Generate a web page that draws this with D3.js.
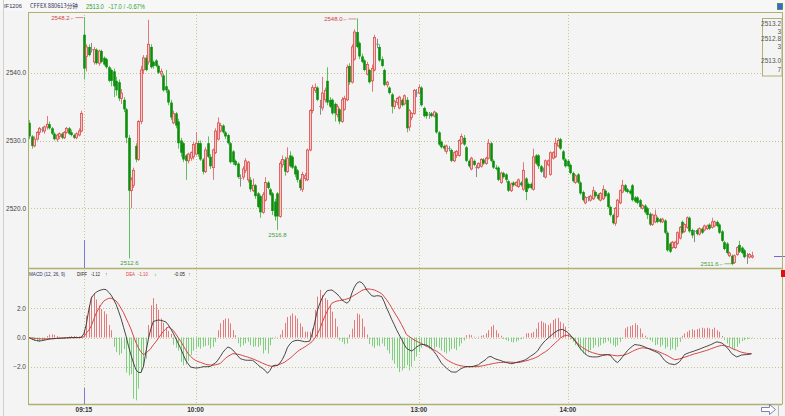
<!DOCTYPE html>
<html><head><meta charset="utf-8">
<script src="https://cdn.jsdelivr.net/npm/d3@7"></script>
<style>
body{margin:0;background:#f4f4f4}
svg{display:block}
text{font-family:"Liberation Sans",Arial,sans-serif}
</style>
</head><body>
<svg id="c" width="785" height="416"></svg>
<script>
// ---------- data ----------
const timeLabels = ["09:15","10:00","13:00","14:00"];
const timeIndex  = [22, 67, 157, 217];
const priceTicks = [2520, 2530, 2540];
const macdTicks  = [-2, 0, 2];
const quoteBox   = ["2513.2","3","2512.8","3","2513.0","7"];

const opens = [
2532.6,2530.6,2529.2,2530.2,2531.2,2531.6,2531.4,2532.0,2532.4,2531.8,
2531.0,2530.2,2530.6,2531.0,2530.4,2531.2,2531.8,2531.2,2530.8,2530.4,
2530.8,2531.4,2545.6,2542.4,2543.8,2543.4,2541.6,2543.4,2541.4,2543.2,
2542.2,2542.0,2540.8,2540.4,2540.2,2538.8,2538.6,2536.2,2536.0,2534.6,
2530.4,2522.6,2523.4,2529.2,2527.2,2532.8,2540.4,2542.2,2541.6,2543.8,
2541.6,2541.8,2541.0,2539.8,2539.6,2538.0,2537.4,2535.6,2532.6,2534.0,
2532.8,2530.0,2529.6,2527.8,2527.0,2527.4,2527.6,2528.0,2529.6,2529.6,
2527.2,2525.4,2529.6,2527.6,2526.0,2528.2,2530.2,2531.4,2532.2,2531.2,
2530.8,2529.6,2528.4,2527.0,2526.6,2524.4,2524.6,2525.6,2524.2,2524.2,
2522.6,2523.4,2522.2,2521.8,2519.4,2521.2,2523.8,2522.8,2522.2,2521.0,
2522.2,2518.8,2526.4,2527.2,2525.4,2527.8,2527.6,2526.2,2525.6,2524.2,
2522.8,2524.4,2524.2,2528.6,2534.4,2537.4,2537.8,2535.0,2534.8,2536.0,
2538.8,2536.0,2536.0,2535.4,2533.8,2534.6,2532.8,2534.6,2536.0,2541.0,
2538.6,2542.0,2546.0,2544.4,2542.4,2541.8,2539.8,2540.4,2538.8,2540.4,
2544.2,2543.8,2542.0,2540.4,2538.2,2537.8,2536.8,2535.0,2535.6,2534.8,
2536.0,2535.4,2536.0,2532.0,2533.4,2534.0,2537.0,2537.0,2537.8,2534.8,
2534.2,2533.8,2534.0,2533.6,2534.0,2531.2,2529.8,2529.2,2528.4,2528.8,
2528.6,2527.0,2527.8,2527.8,2529.6,2530.4,2529.0,2527.0,2525.8,2527.0,
2526.0,2526.0,2526.2,2527.2,2526.6,2527.4,2529.6,2527.0,2526.0,2526.0,
2523.8,2525.2,2525.0,2524.0,2522.6,2523.8,2523.4,2523.2,2523.8,2522.8,
2524.4,2523.6,2523.6,2522.8,2527.8,2527.8,2526.2,2525.6,2524.6,2526.4,
2525.0,2527.4,2527.6,2529.2,2530.2,2528.4,2527.2,2527.0,2526.4,2525.2,
2523.8,2525.0,2523.8,2522.4,2520.8,2521.6,2521.2,2521.4,2522.4,2522.0,
2521.2,2521.4,2522.6,2522.2,2520.2,2519.0,2517.8,2518.8,2520.8,2522.4,
2523.4,2522.8,2522.6,2523.4,2521.6,2521.6,2521.2,2520.0,2520.4,2520.0,
2519.2,2517.6,2518.0,2518.6,2518.4,2518.0,2518.2,2516.4,2514.8,2514.2,
2514.2,2514.8,2515.6,2518.0,2516.6,2517.2,2518.6,2516.8,2516.6,2516.8,
2516.2,2517.0,2516.8,2517.0,2517.6,2517.2,2517.4,2518.0,2517.6,2516.6,
2515.0,2514.8,2513.0,2513.0,2512.0,2513.2,2514.6,2514.2,2513.8,2513.0,
2512.8,2512.8];

const highs = [
2533.0,2530.8,2530.6,2531.4,2532.0,2532.0,2532.2,2533.6,2532.8,2532.0,
2531.2,2531.0,2531.2,2531.2,2531.4,2532.0,2532.0,2531.6,2531.0,2531.2,
2531.8,2534.4,2548.2,2544.2,2544.2,2544.4,2543.8,2543.6,2543.4,2543.4,
2542.4,2542.2,2541.0,2540.6,2540.6,2539.4,2539.0,2537.6,2536.4,2534.8,
2530.8,2524.6,2526.0,2529.6,2533.0,2541.0,2542.6,2542.6,2547.8,2544.2,
2541.8,2542.0,2541.2,2540.6,2539.8,2540.4,2537.6,2536.0,2534.4,2534.2,
2533.2,2530.4,2529.8,2528.0,2528.2,2528.4,2529.8,2531.2,2530.0,2530.0,
2527.4,2529.0,2530.6,2528.0,2528.8,2531.8,2533.4,2532.6,2532.4,2531.4,
2531.0,2529.8,2528.6,2527.2,2526.8,2525.0,2526.2,2527.4,2527.0,2524.6,
2524.4,2523.6,2522.4,2522.0,2522.4,2524.6,2524.0,2523.0,2522.4,2521.4,
2522.4,2527.0,2527.8,2527.6,2529.0,2528.4,2527.8,2526.4,2525.8,2524.4,
2525.4,2525.2,2528.8,2534.6,2538.2,2538.4,2538.0,2536.0,2539.4,2537.8,
2540.8,2536.4,2536.2,2535.6,2535.4,2534.8,2536.4,2536.6,2541.2,2541.4,
2544.2,2546.4,2548.0,2544.6,2542.8,2542.0,2541.6,2540.6,2541.2,2545.6,
2545.0,2544.2,2542.4,2540.6,2538.8,2538.0,2537.0,2536.0,2536.4,2536.6,
2536.2,2536.8,2536.4,2534.6,2534.2,2537.6,2537.6,2538.2,2538.0,2535.0,
2534.4,2534.2,2534.2,2534.4,2534.2,2531.4,2530.0,2529.4,2529.4,2529.2,
2528.8,2528.4,2528.6,2530.2,2531.0,2530.8,2529.2,2527.2,2527.6,2527.2,
2526.4,2526.8,2527.4,2527.4,2527.6,2530.2,2529.8,2527.2,2526.4,2526.2,
2525.4,2525.4,2525.2,2524.2,2523.8,2524.0,2524.0,2524.4,2524.0,2526.8,
2524.6,2523.8,2523.8,2528.8,2528.0,2528.0,2526.4,2526.0,2527.2,2527.2,
2528.4,2528.4,2530.4,2530.4,2530.4,2528.6,2527.4,2527.2,2526.6,2525.4,
2525.0,2525.2,2524.0,2522.6,2521.8,2521.8,2522.0,2523.2,2522.6,2522.2,
2522.4,2523.4,2522.8,2522.4,2520.4,2519.2,2520.2,2521.4,2522.8,2524.2,
2523.6,2523.0,2522.8,2523.6,2521.8,2521.8,2521.4,2520.6,2520.6,2520.2,
2519.4,2519.2,2519.8,2518.8,2518.6,2518.6,2518.4,2516.6,2515.0,2515.2,
2515.2,2516.6,2517.4,2518.2,2517.8,2518.8,2518.8,2517.0,2516.8,2517.0,
2517.2,2517.2,2517.6,2517.6,2517.8,2518.6,2518.2,2518.2,2517.8,2516.8,
2515.2,2515.0,2513.6,2513.2,2513.2,2514.4,2515.2,2514.4,2514.0,2513.4,
2513.4,2513.6];

const lows = [
2530.2,2528.8,2529.0,2530.0,2530.8,2531.2,2531.0,2531.6,2531.6,2530.8,
2530.0,2529.8,2530.2,2530.2,2530.2,2531.0,2530.8,2530.6,2530.2,2530.2,
2530.6,2531.2,2539.0,2540.2,2542.4,2543.0,2541.2,2541.2,2541.0,2541.4,
2541.0,2540.6,2538.6,2538.0,2536.4,2536.6,2535.8,2535.4,2534.2,2529.6,
2512.6,2520.0,2523.0,2526.8,2527.0,2532.4,2539.8,2540.2,2541.2,2540.6,
2540.6,2540.8,2539.8,2539.4,2537.2,2537.0,2535.2,2533.0,2532.4,2531.8,
2528.8,2527.6,2526.8,2524.2,2526.6,2527.0,2527.2,2527.8,2527.6,2527.0,
2525.0,2525.2,2527.4,2525.8,2524.2,2528.0,2530.0,2531.2,2531.0,2530.2,
2529.4,2526.6,2526.4,2526.2,2524.4,2523.2,2524.2,2525.2,2523.8,2522.4,
2522.4,2521.4,2520.0,2518.6,2519.2,2521.0,2522.8,2521.8,2519.0,2518.2,
2516.8,2518.6,2526.0,2524.8,2525.2,2526.0,2525.8,2524.6,2523.8,2522.6,
2522.4,2524.0,2524.0,2528.4,2534.0,2537.0,2535.8,2533.8,2534.4,2535.6,
2535.2,2534.8,2533.8,2532.8,2533.4,2532.4,2532.6,2534.4,2535.8,2538.2,
2538.4,2541.8,2543.6,2542.0,2541.4,2540.2,2539.6,2538.4,2537.2,2540.2,
2543.6,2541.6,2540.8,2538.0,2537.8,2536.8,2534.0,2534.6,2535.2,2534.6,
2535.0,2535.2,2531.2,2531.4,2533.0,2533.8,2536.4,2536.8,2535.0,2533.4,
2533.2,2533.2,2533.4,2533.4,2531.0,2529.2,2528.8,2528.4,2528.0,2528.4,
2526.8,2526.8,2527.4,2527.6,2529.4,2529.2,2526.8,2526.0,2525.6,2526.2,
2524.6,2525.8,2526.0,2526.4,2526.4,2527.2,2526.8,2525.8,2525.6,2524.0,
2523.6,2524.4,2523.8,2522.4,2522.4,2523.2,2523.2,2523.0,2523.2,2522.6,
2521.2,2522.8,2522.8,2522.6,2526.4,2525.8,2525.2,2524.6,2524.4,2526.2,
2524.8,2527.2,2527.4,2529.0,2528.6,2527.0,2526.0,2526.0,2525.0,2523.8,
2523.6,2523.6,2522.0,2521.0,2520.6,2521.0,2521.0,2521.2,2521.6,2521.2,
2521.0,2521.2,2521.6,2520.0,2518.8,2517.6,2517.4,2518.6,2520.6,2522.2,
2522.4,2522.2,2522.0,2521.0,2520.8,2520.6,2520.0,2519.8,2519.2,2518.4,
2517.4,2517.4,2517.8,2517.8,2517.8,2517.8,2516.2,2513.6,2513.4,2514.0,
2514.0,2514.6,2515.4,2516.2,2516.4,2517.0,2516.4,2515.6,2515.0,2516.0,
2516.0,2516.2,2516.6,2516.8,2516.8,2517.0,2517.2,2517.2,2516.2,2515.0,
2513.8,2513.2,2512.8,2511.6,2511.8,2513.0,2513.4,2513.2,2512.6,2511.8,
2512.6,2512.6];

const closes = [
2530.6,2529.2,2530.2,2531.2,2531.8,2531.6,2532.0,2532.4,2531.8,2531.0,
2530.2,2530.8,2531.0,2530.4,2531.2,2531.8,2531.0,2530.8,2530.4,2531.0,
2531.4,2534.0,2540.6,2543.8,2542.6,2543.4,2543.4,2541.4,2543.2,2541.6,
2541.2,2540.8,2538.8,2538.8,2538.0,2537.4,2536.2,2537.0,2534.6,2530.4,
2522.6,2524.2,2525.6,2527.2,2532.8,2540.4,2542.2,2540.4,2544.2,2540.8,
2541.0,2541.0,2540.0,2540.2,2537.4,2537.4,2535.6,2533.4,2534.0,2532.2,
2529.6,2528.2,2527.2,2527.0,2528.0,2528.2,2529.4,2529.6,2528.0,2527.2,
2525.4,2528.6,2527.6,2526.2,2528.6,2531.4,2532.6,2532.2,2531.2,2530.6,
2529.6,2526.8,2526.8,2526.4,2524.6,2524.4,2525.8,2527.0,2526.8,2522.8,
2523.4,2521.8,2520.2,2519.4,2522.0,2523.8,2523.0,2522.0,2519.6,2518.8,
2518.8,2526.6,2527.2,2525.4,2527.4,2526.2,2526.0,2525.0,2524.2,2523.0,
2525.0,2524.8,2528.6,2534.4,2537.8,2537.8,2536.0,2535.0,2537.0,2537.4,
2535.6,2535.0,2534.0,2534.0,2535.0,2532.8,2536.0,2536.2,2540.8,2538.6,
2543.8,2546.0,2543.8,2542.4,2541.6,2540.4,2541.2,2538.6,2540.6,2545.2,
2544.2,2541.8,2541.0,2538.2,2538.6,2537.0,2535.0,2535.8,2536.2,2536.4,
2535.2,2536.6,2531.8,2534.4,2534.0,2537.4,2537.0,2537.8,2535.2,2533.6,
2533.6,2533.8,2533.6,2534.2,2531.2,2529.4,2529.0,2528.8,2529.2,2528.8,
2527.0,2528.2,2528.4,2530.0,2530.6,2529.4,2527.0,2526.2,2527.4,2526.4,
2526.0,2526.6,2527.2,2526.6,2527.4,2529.6,2527.0,2526.0,2525.8,2524.2,
2525.2,2524.6,2524.2,2522.6,2523.6,2523.4,2523.8,2524.2,2523.4,2525.6,
2522.4,2523.0,2523.0,2527.6,2526.6,2526.2,2525.4,2525.6,2527.0,2527.0,
2528.2,2528.2,2529.6,2530.0,2528.8,2527.2,2526.2,2526.2,2525.2,2524.0,
2524.8,2523.8,2522.2,2521.2,2521.6,2521.6,2521.8,2522.6,2521.8,2521.4,
2522.2,2522.8,2521.8,2520.2,2519.0,2517.8,2520.0,2521.2,2522.6,2523.4,
2522.6,2522.4,2522.2,2521.2,2521.0,2520.8,2520.2,2520.4,2519.4,2519.0,
2517.6,2519.0,2519.0,2518.0,2518.0,2518.4,2516.4,2513.8,2513.6,2515.0,
2515.0,2516.4,2517.2,2516.4,2517.6,2518.6,2516.6,2516.0,2516.6,2516.2,
2517.0,2516.4,2517.4,2517.4,2517.0,2518.0,2518.0,2517.4,2516.4,2515.2,
2514.0,2513.4,2513.4,2511.8,2513.0,2514.2,2513.6,2513.4,2512.8,2513.0,
2513.2,2513.0];

const macdDiff = [
-0.03,-0.1,-0.17,-0.21,-0.24,-0.22,-0.18,-0.15,-0.11,-0.09,
-0.08,-0.06,-0.05,-0.04,-0.03,-0.02,-0.01,0,0,0,
0,0.02,0.25,0.9,1.9,2.7,2.95,3.1,3.2,3.26,
3.3,3.28,3.1,2.9,2.6,2.26,1.8,1.3,0.7,0.1,
-0.6,-1.2,-1.75,-2.2,-2.4,-2.4,-2.0,-1.0,-0.1,0.6,
1.1,1.15,1.2,1.17,1.13,1.07,0.87,0.6,0.3,-0.05,
-0.4,-0.75,-1.15,-1.55,-1.8,-2.02,-2.06,-2.09,-2.08,-2.05,
-2.0,-2.0,-2.0,-1.98,-1.85,-1.75,-1.55,-1.3,-1.02,-0.82,
-0.65,-0.72,-0.85,-1.05,-1.25,-1.45,-1.5,-1.55,-1.56,-1.56,
-1.56,-1.7,-1.85,-2.0,-2.12,-2.25,-2.45,-2.25,-1.95,-1.9,
-1.9,-1.75,-1.5,-1.15,-0.7,-0.45,-0.28,-0.22,-0.19,-0.21,
-0.25,-0.29,-0.28,-0.25,0.25,1.0,1.8,2.3,2.7,2.98,
3.2,3.24,3.25,3.12,2.98,2.8,2.57,2.45,2.35,2.5,
3.05,3.45,3.72,3.82,3.76,3.55,3.25,3.05,2.86,2.82,
2.86,2.85,2.8,2.45,2.02,1.65,1.25,0.9,0.53,0.2,
-0.12,-0.45,-0.74,-0.84,-0.93,-0.82,-0.66,-0.55,-0.47,-0.49,
-0.52,-0.6,-0.74,-0.95,-1.17,-1.45,-1.73,-1.92,-2.08,-2.22,
-2.35,-2.37,-2.37,-2.25,-2.13,-2.06,-2.0,-2.0,-2.0,-1.97,
-1.92,-1.87,-1.73,-1.62,-1.5,-1.33,-1.3,-1.4,-1.48,-1.53,
-1.58,-1.65,-1.7,-1.75,-1.79,-1.78,-1.72,-1.67,-1.63,-1.58,
-1.52,-1.4,-1.28,-1.17,-1.05,-0.87,-0.6,-0.38,-0.2,-0.05,
0.1,0.25,0.38,0.48,0.54,0.55,0.45,0.35,0.17,-0.03,
-0.25,-0.5,-0.75,-0.95,-1.12,-1.25,-1.31,-1.33,-1.33,-1.33,
-1.28,-1.23,-1.2,-1.18,-1.2,-1.4,-1.6,-1.72,-1.55,-1.33,
-1.12,-0.9,-0.74,-0.6,-0.48,-0.51,-0.53,-0.58,-0.65,-0.73,
-0.8,-0.88,-0.95,-1.02,-1.12,-1.35,-1.57,-1.7,-1.8,-1.83,
-1.86,-1.78,-1.66,-1.42,-1.17,-1.1,-1.03,-0.98,-0.92,-0.86,
-0.8,-0.73,-0.66,-0.6,-0.53,-0.46,-0.37,-0.3,-0.33,-0.38,
-0.5,-0.66,-0.86,-1.1,-1.22,-1.33,-1.27,-1.2,-1.18,-1.17,
-1.15,-1.12];

const macdDea = [
-0.01,-0.03,-0.05,-0.07,-0.09,-0.1,-0.1,-0.09,-0.08,-0.08,
-0.07,-0.06,-0.05,-0.05,-0.04,-0.03,-0.03,-0.02,-0.02,-0.01,
-0.01,0,0.05,0.3,0.5,0.8,1.25,1.68,1.98,2.26,
2.49,2.6,2.68,2.69,2.6,2.5,2.28,1.99,1.7,1.32,
0.96,0.57,0.1,-0.35,-0.72,-0.98,-1.18,-1.05,-0.93,-0.75,
-0.5,-0.3,-0.06,0.19,0.41,0.58,0.72,0.62,0.49,0.25,
0,-0.26,-0.54,-0.84,-1.1,-1.29,-1.45,-1.57,-1.65,-1.7,
-1.77,-1.83,-1.87,-1.88,-1.9,-1.87,-1.83,-1.78,-1.6,-1.43,
-1.3,-1.2,-1.11,-1.12,-1.15,-1.18,-1.24,-1.29,-1.34,-1.4,
-1.45,-1.53,-1.6,-1.68,-1.76,-1.83,-1.9,-1.95,-1.98,-1.95,
-1.91,-1.83,-1.76,-1.68,-1.55,-1.43,-1.29,-1.13,-0.97,-0.85,
-0.75,-0.65,-0.53,-0.41,-0.28,-0.05,0.2,0.55,1.0,1.42,
1.8,2.1,2.36,2.44,2.5,2.53,2.56,2.6,2.64,2.7,
2.8,2.9,3.0,3.11,3.22,3.28,3.32,3.32,3.29,3.26,
3.18,3.1,3.0,2.8,2.58,2.33,2.05,1.75,1.48,1.2,
0.88,0.56,0.2,0.08,-0.05,-0.16,-0.25,-0.34,-0.4,-0.5,
-0.6,-0.67,-0.75,-0.84,-0.93,-1.05,-1.18,-1.35,-1.5,-1.6,
-1.7,-1.78,-1.85,-1.9,-1.94,-1.97,-1.99,-2.0,-2.0,-2.0,
-2.0,-1.99,-1.96,-1.93,-1.89,-1.85,-1.82,-1.78,-1.75,-1.72,
-1.71,-1.7,-1.69,-1.68,-1.69,-1.7,-1.71,-1.72,-1.69,-1.65,
-1.6,-1.56,-1.5,-1.45,-1.38,-1.3,-1.18,-1.07,-0.97,-0.85,
-0.68,-0.52,-0.37,-0.2,-0.04,0.07,0.14,0.15,0.08,-0.03,
-0.22,-0.42,-0.56,-0.7,-0.8,-0.9,-0.98,-1.04,-1.09,-1.14,
-1.17,-1.17,-1.17,-1.17,-1.19,-1.21,-1.24,-1.26,-1.24,-1.22,
-1.19,-1.12,-1.04,-0.95,-0.87,-0.8,-0.74,-0.71,-0.72,-0.74,
-0.76,-0.82,-0.87,-0.93,-1.0,-1.08,-1.15,-1.23,-1.33,-1.43,
-1.52,-1.5,-1.46,-1.41,-1.35,-1.3,-1.24,-1.18,-1.12,-1.08,
-1.03,-0.98,-0.93,-0.88,-0.82,-0.75,-0.69,-0.63,-0.58,-0.54,
-0.56,-0.6,-0.64,-0.74,-0.82,-0.87,-0.95,-1.01,-1.05,-1.08,
-1.1,-1.1];

const macdBar = [
-0.05,-0.14,-0.24,-0.28,-0.3,-0.24,-0.16,0.1,0.2,0.22,
0.18,0.1,0.04,-0.04,-0.06,0.02,0.06,0.1,0.1,0.08,
0.06,0.1,0.5,1.5,2.2,2.8,3.0,2.6,2.2,1.95,
1.8,1.6,0.85,0.5,-0.64,-1.0,-1.2,-1.1,-0.8,-2.4,
-2.6,-2.5,-4.2,-4.3,-3.5,-2.4,-2.0,-1.45,0.85,2.2,
2.7,2.3,1.9,1.3,1.0,0.7,0.45,0.25,-0.5,-0.7,
-0.9,-1.68,-1.9,-1.85,-1.6,-1.2,-0.9,-0.7,-0.64,-0.76,
-0.64,-0.58,-0.53,-0.76,-0.64,-0.3,0.5,0.97,1.2,1.3,
1.3,0.97,0.5,0.16,-0.4,-0.64,-0.53,-0.4,-0.3,-0.53,
-0.64,-0.6,-0.64,-0.53,-1.1,-0.87,-1.1,-0.53,-0.1,0.05,
0.02,0.2,0.5,1.0,1.4,1.5,1.65,1.5,1.3,0.97,
0.74,0.4,0.4,0.4,0.62,1.9,2.8,3.26,2.9,2.7,
2.57,2.2,1.77,1.3,0.74,-0.2,-0.3,-0.46,-0.41,0.2,
0.6,1.2,1.65,1.58,1.3,0.74,0.2,-0.45,-0.6,-0.71,
-0.55,-0.6,-0.41,-0.6,-0.87,-1.1,-1.56,-1.8,-2.1,-2.37,
-2.25,-2.1,-1.9,-2.25,-2.0,-1.6,-1.3,-1.0,-0.7,-0.53,
-0.64,-0.8,-0.87,-0.76,-0.64,-0.7,-0.9,-1.0,-1.1,-0.95,
-0.8,-0.76,-0.87,-0.6,-0.4,-0.2,0.16,0.2,0.16,0.05,
0.02,0.05,0.12,0.16,0.28,0.5,0.74,0.85,0.5,0.28,
0.12,-0.1,-0.18,-0.25,-0.3,-0.34,-0.28,-0.2,-0.12,0.05,
0.28,0.3,0.3,0.39,0.6,1.03,1.13,1.03,0.97,0.85,
0.97,1.2,1.3,1.35,1.08,0.97,0.74,0.28,-0.12,-0.3,
-0.53,-0.64,-0.87,-1.1,-1.2,-1.03,-0.87,-0.71,-0.53,-0.64,
-0.53,-0.41,-0.34,-0.25,-0.41,-0.53,-0.64,-0.53,-0.3,-0.1,
0.62,0.74,0.78,0.85,0.97,0.85,0.62,0.28,0.12,-0.1,
-0.18,-0.3,-0.53,-0.48,-0.64,-0.53,-0.76,-0.64,-0.87,-0.76,
-0.87,-0.64,-0.3,0.12,0.28,0.39,0.5,0.57,0.5,0.57,
0.62,0.67,0.62,0.67,0.62,0.57,0.67,0.5,0.39,0.1,
-0.18,-0.41,-0.64,-0.76,-0.87,-0.64,-0.41,-0.25,-0.18,-0.12,
-0.07,-0.05];

// ---------- layout ----------
const W = 785, H = 416;
const L = 28, R = 782;
const pTop = 12, pBot = 268.5, mBot = 404.5;
const STEP = 2.482;
const N = closes.length;
const FRAME = "#b0b070", GRID = "#c6c68a";

const svg = d3.select("#c");
svg.append("rect").attr("width", W).attr("height", H).attr("fill", "#f4f4f4");
svg.append("rect").attr("width", W).attr("height", 11).attr("fill", "#f7f7f7");
svg.append("line").attr("x1", 3.5).attr("x2", 3.5).attr("y1", 0).attr("y2", H)
  .attr("stroke", "#cfcfcf");

const x = d3.scaleBand().domain(d3.range(N)).range([L, L + N * STEP]).padding(0);
const cx = i => Math.round(x(i) + x.bandwidth() / 2) + 0.5;
const y = d3.scaleLinear().domain([2520, 2540]).range([208.3, 72.7]);
const ym = d3.scaleLinear().domain([-2, 2]).range([366.7, 308.3]);

// ---------- grid ----------
const g = svg.append("g");
g.selectAll(".hp").data(priceTicks).join("line")
  .attr("x1", L).attr("x2", R)
  .attr("y1", d => Math.round(y(d)) + 0.5).attr("y2", d => Math.round(y(d)) + 0.5)
  .attr("stroke", GRID).attr("stroke-dasharray", "1,2");
g.selectAll(".hm").data(macdTicks).join("line")
  .attr("x1", L).attr("x2", R)
  .attr("y1", d => Math.round(ym(d)) + 0.5).attr("y2", d => Math.round(ym(d)) + 0.5)
  .attr("stroke", GRID).attr("stroke-dasharray", "1,2");
g.selectAll(".vt").data(timeIndex).join("line")
  .attr("x1", d => cx(d)).attr("x2", d => cx(d))
  .attr("y1", pTop).attr("y2", mBot)
  .attr("stroke", GRID).attr("stroke-dasharray", "1,2");

// day separator markers
[[240, pBot], [388, mBot]].forEach(([a, b]) => {
  svg.append("line").attr("x1", cx(22)).attr("x2", cx(22)).attr("y1", a).attr("y2", b)
    .attr("stroke", "#7b7bd0").attr("stroke-width", 1);
});

// ---------- candles ----------
const cg = svg.append("g");
const up = i => closes[i] > opens[i];
const dn = i => closes[i] < opens[i];
cg.selectAll(".wick").data(d3.range(N)).join("line")
  .attr("x1", cx).attr("x2", cx)
  .attr("y1", i => y(highs[i])).attr("y2", i => y(lows[i]))
  .attr("stroke", i => up(i) ? "#e07a7a" : dn(i) ? "#5fbf5f" : "#888")
  .attr("stroke-width", 1);
cg.selectAll(".body").data(d3.range(N)).join("rect")
  .attr("x", i => up(i) ? cx(i) - 1 : cx(i) - 1.3)
  .attr("width", i => up(i) ? 2 : 2.6)
  .attr("y", i => y(Math.max(opens[i], closes[i])) - (opens[i] === closes[i] ? 0.5 : 0))
  .attr("height", i => Math.max(1, Math.abs(y(opens[i]) - y(closes[i]))))
  .attr("fill", i => up(i) ? "#f5c8c8" : dn(i) ? "#0c8f0c" : "#888")
  .attr("stroke", i => up(i) ? "#dd4a4a" : "none")
  .attr("stroke-width", 0.8);

// extreme labels
const lab = svg.append("g").style("font-size", "6px");
lab.append("text").attr("x", cx(22) - 9).attr("y", y(2548.2) + 2.5).attr("text-anchor", "end")
  .attr("fill", "#d04040").text("2548.2←");
lab.append("line").attr("x1", cx(22) - 9).attr("x2", cx(22) - 1).attr("y1", y(2548.2) + 0.5).attr("y2", y(2548.2) + 0.5)
  .attr("stroke", "#d04040").attr("stroke-width", 0.6);
lab.append("text").attr("x", cx(132) - 9).attr("y", y(2548.0) + 2.5).attr("text-anchor", "end")
  .attr("fill", "#d04040").text("2548.0←");
lab.append("line").attr("x1", cx(132) - 9).attr("x2", cx(132) - 1).attr("y1", y(2548.0) + 0.5).attr("y2", y(2548.0) + 0.5)
  .attr("stroke", "#d04040").attr("stroke-width", 0.6);
lab.append("text").attr("x", cx(40)).attr("y", y(2512.6) + 7).attr("text-anchor", "middle")
  .attr("fill", "#3aa03a").text("2512.6");
lab.append("text").attr("x", cx(100)).attr("y", y(2516.8) + 7).attr("text-anchor", "middle")
  .attr("fill", "#3aa03a").text("2516.8");
lab.append("text").attr("x", cx(283) - 8).attr("y", y(2511.6) + 1).attr("text-anchor", "end")
  .attr("fill", "#3aa03a").text("2511.6←");
lab.append("line").attr("x1", cx(283) - 8).attr("x2", cx(283) - 1).attr("y1", y(2511.6) - 1.5).attr("y2", y(2511.6) - 1.5)
  .attr("stroke", "#3aa03a").attr("stroke-width", 0.6);

// current price marker
svg.append("line").attr("x1", 774).attr("x2", 785)
  .attr("y1", Math.round(y(closes[N - 1])) + 0.5).attr("y2", Math.round(y(closes[N - 1])) + 0.5)
  .attr("stroke", "#6c6cc4");

// ---------- MACD ----------
const mg = svg.append("g");
mg.selectAll(".bar").data(d3.range(N)).join("line")
  .attr("x1", cx).attr("x2", cx)
  .attr("y1", ym(0)).attr("y2", i => ym(macdBar[i]))
  .attr("stroke", i => macdBar[i] >= 0 ? "#e27c7c" : "#7fcf7f")
  .attr("stroke-width", 1);
const ln = arr => d3.line().x((d, i) => x(i) + x.bandwidth() / 2).y(d => ym(d))(arr);
mg.append("path").attr("d", ln(macdDea)).attr("fill", "none").attr("stroke", "#d94545").attr("stroke-width", 1);
mg.append("path").attr("d", ln(macdDiff)).attr("fill", "none").attr("stroke", "#333").attr("stroke-width", 0.9);

// ---------- frame ----------
const fr = svg.append("g").attr("stroke", FRAME).attr("fill", "none");
fr.append("line").attr("x1", L).attr("x2", R).attr("y1", pTop + 0.5).attr("y2", pTop + 0.5);
fr.append("line").attr("x1", L).attr("x2", R).attr("y1", pBot).attr("y2", pBot).attr("stroke-width", 1.5);
fr.append("line").attr("x1", L).attr("x2", R).attr("y1", mBot).attr("y2", mBot).attr("stroke-width", 1.5);
fr.append("line").attr("x1", L + 0.5).attr("x2", L + 0.5).attr("y1", pTop).attr("y2", mBot);
fr.append("line").attr("x1", R + 0.5).attr("x2", R + 0.5).attr("y1", pTop).attr("y2", mBot);

// quote box
svg.append("rect").attr("x", 762.5).attr("y", 18.5).attr("width", 19.5).attr("height", 57.5)
  .attr("fill", "#f4f4f4").attr("stroke", FRAME);
svg.append("g").selectAll("text").data(quoteBox).join("text")
  .attr("x", 781).attr("y", (d, i) => [26, 34, 40.5, 49, 63, 72][i])
  .attr("text-anchor", "end").style("font-size", "6.5px").attr("fill", "#555").text(d => d);

// ---------- axes ----------
const ay = svg.append("g").attr("transform", `translate(${L},0)`)
  .call(d3.axisLeft(y).tickValues(priceTicks).tickFormat(d3.format(".1f")).tickSize(0).tickPadding(2));
const am = svg.append("g").attr("transform", `translate(${L},0)`)
  .call(d3.axisLeft(ym).tickValues(macdTicks).tickFormat(d3.format(".1f")).tickSize(0).tickPadding(2));
const ax = svg.append("g").attr("transform", `translate(0,${mBot})`)
  .call(d3.axisBottom(x).tickValues(timeIndex).tickFormat(d => timeLabels[timeIndex.indexOf(d)]).tickSize(0).tickPadding(3));
[ay, am, ax].forEach(a => {
  a.select(".domain").remove();
  a.selectAll("text").style("font-size", "6.5px").style("font-family", "Liberation Sans, Arial, sans-serif").attr("fill", "#444");
});
ax.selectAll("text").style("font-weight", "bold").attr("fill", "#333");

// ---------- header texts ----------
const t = svg.append("g").style("font-size", "6px");
t.append("text").attr("x", 4).attr("y", 8).attr("fill", "#33335a")
  .attr("textLength", 18).attr("lengthAdjust", "spacingAndGlyphs").text("IF1206");
t.append("text").attr("x", 30).attr("y", 8).attr("fill", "#33335a")
  .attr("textLength", 48).attr("lengthAdjust", "spacingAndGlyphs")
  .style("font-family", "'Noto Sans CJK SC', 'Liberation Sans', sans-serif").text("CFFEX 880613分钟");
t.append("text").attr("x", 86).attr("y", 8.5).attr("fill", "#2f9f2f").style("font-size", "7px")
  .attr("textLength", 59).attr("lengthAdjust", "spacingAndGlyphs")
  .attr("xml:space", "preserve").text("2513.0   -17.0 / -0.67%");

const mh = svg.append("g").style("font-size", "5.5px");
const hdr = (xx, w, col, txt) => mh.append("text").attr("x", xx).attr("y", 276).attr("fill", col)
  .attr("textLength", w).attr("lengthAdjust", "spacingAndGlyphs").text(txt);
hdr(29, 36, "#33335a", "MACD (12, 26, 9)");
hdr(77, 10, "#222", "DIFF");
hdr(91, 9, "#222", macdDiff[N - 1].toFixed(2));
mh.append("text").attr("x", 105).attr("y", 276).attr("fill", "#e03030").text("↑");
hdr(126, 9, "#d94545", "DEA");
hdr(138, 10, "#d94545", macdDea[N - 1].toFixed(2));
mh.append("text").attr("x", 154).attr("y", 276).attr("fill", "#2f9f2f").text("↓");
hdr(174, 11, "#222", macdBar[N - 1].toFixed(2));
mh.append("text").attr("x", 188).attr("y", 276).attr("fill", "#e03030").text("↑");

// ---------- small icons ----------
svg.append("rect").attr("x", 777.5).attr("y", 3.5).attr("width", 5).attr("height", 6)
  .attr("fill", "#4a62c8").attr("stroke", "#2b8f4f").attr("stroke-width", 0.8);
svg.append("rect").attr("x", 781).attr("y", 270).attr("width", 4).attr("height", 7).attr("fill", "#e01010");
svg.append("path").attr("d", "M761.5,407.5h8v-3l6,5l-6,5v-3h-8z")
  .attr("fill", "#fff").attr("stroke", "#5565a8").attr("stroke-width", 0.8);
svg.append("line").attr("x1", 778.5).attr("x2", 778.5).attr("y1", 404).attr("y2", 416).attr("stroke", "#b8b8b8");
</script>
</body></html>
